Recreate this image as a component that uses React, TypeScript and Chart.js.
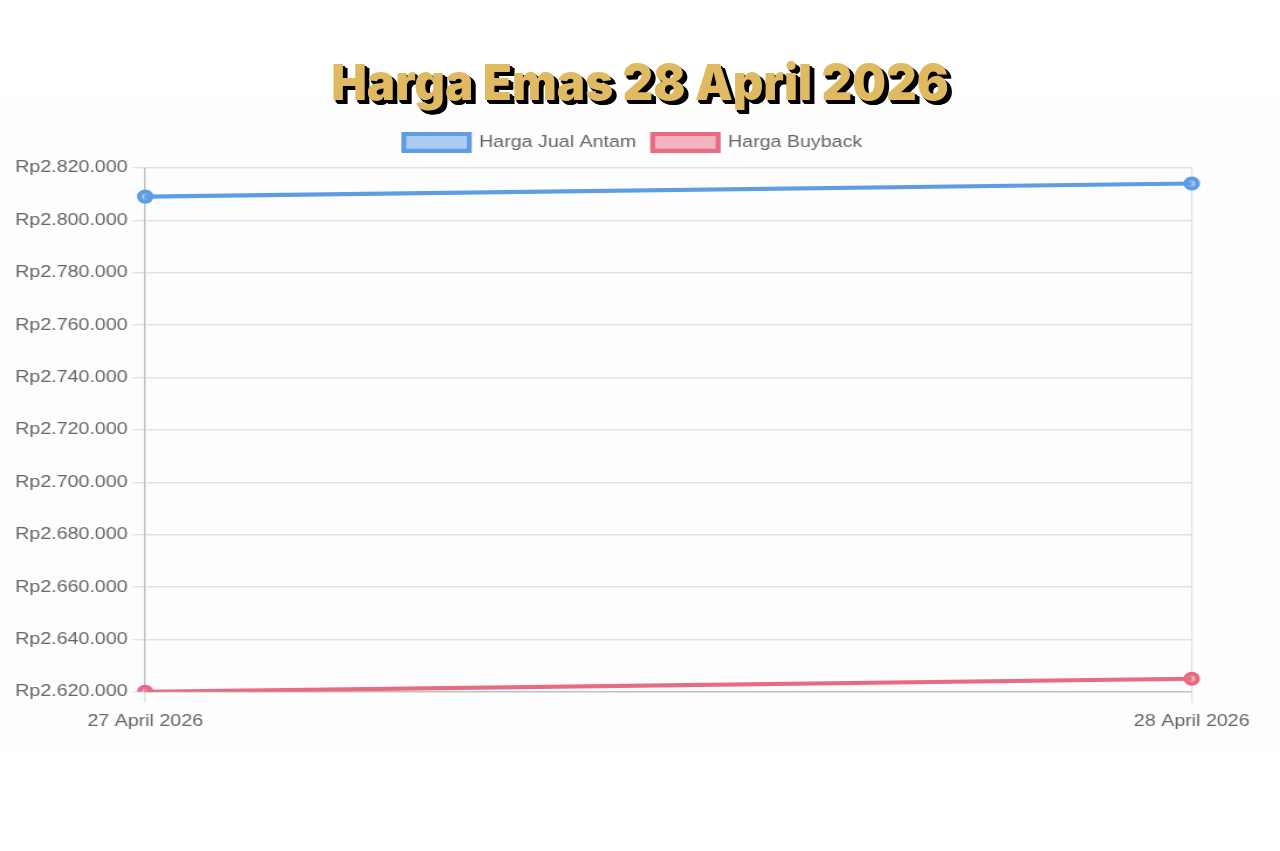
import React, { useEffect, useRef } from "react";
import { Chart, registerables } from "chart.js";

Chart.register(...registerables);

const tanggal = ["27 April 2026", "28 April 2026"];
const hargaJualAntam = [2809000, 2814000];
const hargaBuyback = [2620000, 2625000];

const BIRU = "#5c9de5";
const MERAH = "#e96a83";
const SKALA_X = 1.17;

const formatRupiah = (v: number) =>
  "Rp" + Math.round(v).toString().replace(/\B(?=(\d{3})+(?!\d))/g, ".");

// sedikit jarak ekstra di bawah legend
const jarakLegend = {
  id: "jarakLegend",
  beforeInit(chart: any) {
    const fitAsli = chart.legend.fit;
    chart.legend.fit = function () {
      fitAsli.bind(chart.legend)();
      this.height += 7;
    };
  },
};

const GrafikEmas = () => {
  const canvasRef = useRef<HTMLCanvasElement>(null);
  const chartRef = useRef<Chart | null>(null);

  useEffect(() => {
    if (!canvasRef.current) return;
    chartRef.current?.destroy();

    const font = { family: "'Liberation Sans', Arial, sans-serif", size: 16.8 };

    chartRef.current = new Chart(canvasRef.current, {
      type: "line",
      data: {
        labels: tanggal,
        datasets: [
          {
            label: "Harga Jual Antam",
            data: hargaJualAntam,
            borderColor: BIRU,
            backgroundColor: "rgba(92,157,229,0.5)",
            borderWidth: 4.2,
            pointRadius: 5,
            pointBorderWidth: 4.2,
            tension: 0,
          },
          {
            label: "Harga Buyback",
            data: hargaBuyback,
            borderColor: MERAH,
            backgroundColor: "rgba(233,106,131,0.5)",
            borderWidth: 4.2,
            pointRadius: 5,
            pointBorderWidth: 4.2,
            tension: 0,
          },
        ],
      },
      options: {
        responsive: true,
        maintainAspectRatio: false,
        animation: false,
        layout: { padding: { top: 25, left: 9, right: 21, bottom: 13 } },
        plugins: {
          legend: {
            labels: {
              font,
              color: "#666",
              boxWidth: 56,
              boxHeight: 16.8,
              padding: 14,
            },
          },
          tooltip: { enabled: false },
        },
        scales: {
          x: {
            grid: { color: "rgba(0,0,0,0.1)", lineWidth: 1.4, tickLength: 11 },
            border: { color: "rgba(0,0,0,0.15)", width: 1.4 },
            ticks: { font, color: "#666", padding: 8, maxRotation: 0 },
            afterFit: (axis: any) => {
              axis.paddingRight += 18;
            },
          },
          y: {
            min: 2620000,
            max: 2820000,
            grid: { color: "rgba(0,0,0,0.1)", lineWidth: 1.4, tickLength: 11 },
            border: { color: "rgba(0,0,0,0.15)", width: 1.4 },
            ticks: {
              font,
              color: "#666",
              padding: 4,
              stepSize: 20000,
              callback: (v) => formatRupiah(Number(v)),
            },
          },
        },
      },
      plugins: [jarakLegend],
    });

    return () => chartRef.current?.destroy();
  }, []);

  return (
    <div
      style={{
        position: "absolute",
        left: 0,
        top: 95,
        width: 1280,
        height: 657,
        background: "#fdfdfd",
        overflow: "hidden",
      }}
    >
      <div
        style={{
          position: "absolute",
          left: 0,
          top: 0,
          width: 1280 / SKALA_X,
          height: 657,
          transform: `scaleX(${SKALA_X})`,
          transformOrigin: "left top",
        }}
      >
        <canvas ref={canvasRef} />
      </div>
    </div>
  );
};

const App = () => {
  return (
    <div style={{ position: "absolute", left: 0, top: 0, width: 1280, height: 851, background: "#fff" }}>
      <GrafikEmas />
      <div
        style={{
          position: "absolute",
          left: 0,
          top: 52,
          width: 1280,
          textAlign: "center",
          fontFamily: "Inter, 'DejaVu Sans', sans-serif",
          fontWeight: 900,
          fontSize: 50,
          lineHeight: "60px",
          color: "#e0ba62",
          textShadow: "2px 2px 0 #000, 3px 3px 0 #000, 4px 4px 0 #000, 5px 4px 0 #000",
          transform: "scaleX(0.95)",
          letterSpacing: 0,
        }}
      >
        Harga Emas 28 April 2026
      </div>
    </div>
  );
};

export default App;
